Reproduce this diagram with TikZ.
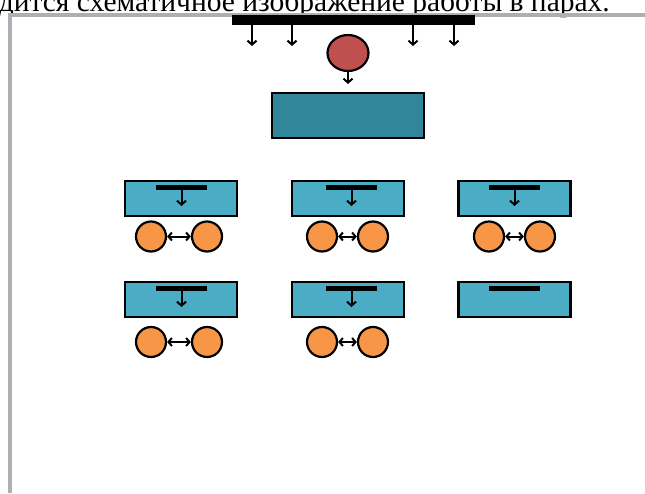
\documentclass[tikz,border=0pt]{standalone}
\usepackage{fontspec}
\setmainfont{Liberation Serif}
\usetikzlibrary{shapes.geometric,arrows.meta}
\definecolor{frameg}{RGB}{172,176,180}
\definecolor{tealdark}{RGB}{49,134,156}
\definecolor{teallight}{RGB}{75,172,198}
\definecolor{redc}{RGB}{192,80,77}
\definecolor{orangec}{RGB}{247,150,70}
\tikzset{
  ar/.style={-{Straight Barb[length=4pt,width=9pt,line width=2pt]},line width=2pt},
  dar/.style={{Straight Barb[length=3.5pt,width=8pt,line width=2pt]}-{Straight Barb[length=3.5pt,width=8pt,line width=2pt]},line width=2pt},
  bigbox/.style={rectangle,draw=black,line width=2.5pt,fill=tealdark,minimum width=152pt,minimum height=45pt,inner sep=0pt},
  smallbox/.style={rectangle,draw=black,line width=2.4pt,fill=teallight,minimum width=112pt,minimum height=35pt,inner sep=0pt},
  innerbar/.style={rectangle,fill=black,minimum width=51pt,minimum height=5pt,inner sep=0pt},
  topbar/.style={rectangle,fill=black,minimum width=243pt,minimum height=10pt,inner sep=0pt},
  pair/.style={circle,draw=black,line width=2.2pt,fill=orangec,minimum size=30pt,inner sep=0pt},
  redcirc/.style={ellipse,draw=black,line width=2.2pt,fill=redc,minimum width=41pt,minimum height=36pt,inner sep=0pt},
}
\begin{document}
\begin{tikzpicture}[x=1pt,y=-1pt]
\useasboundingbox (0,0) rectangle (645,493);
\clip (0,0) rectangle (645,493);
% caption text (cut at the top)
\node[anchor=base east,inner sep=0pt,font=\fontsize{29.5}{34}\selectfont] (cap) at (610,11) {дится схематичное изображение работы в парах.};
% slide frame
\draw[frameg,line width=4pt] (10,493) -- (10,15) -- (650,15);
% top bar with arrows
\node[topbar] (tb) at (353.5,20) {};
\foreach \i/\xx in {1/252,2/292,3/413,4/454}{
  \coordinate (ts\i) at (\xx,25);
  \coordinate (te\i) at (\xx,46);
  \draw[ar] (ts\i) -- (te\i);
}
% red circle
\node[redcirc] (rc) at (348,53) {};
\coordinate (rce) at (348,84);
\draw[ar] (rc.south) -- (rce);
% main box
\node[bigbox] (mb) at (348,115.5) {};
% small boxes
\foreach \c/\cx/\bx in {1/181/181.5,2/348/351.5,3/514.5/514.5}{
  \foreach \r/\ry in {1/198.5,2/299.5}{
    \node[smallbox] (sb\c\r) at (\cx,\ry) {};
    \node[innerbar] (ib\c\r) at (\bx,\ry-11.5) {};
  }
}
\foreach \c/\bx in {1/181.5,2/351.5,3/514.5}{
  \coordinate (ie\c1) at (\bx,206);
  \draw[ar] (ib\c1.south) -- (ie\c1);
}
\foreach \c/\bx in {1/181.5,2/351.5}{
  \coordinate (ie\c2) at (\bx,307);
  \draw[ar] (ib\c2.south) -- (ie\c2);
}
% orange pairs
\foreach \c/\lx/\rx/\cy in {1/151/207/236.5,2/322/373/236.5,3/489/540/236.5}{
  \node[pair] (pl\c1) at (\lx,\cy) {};
  \node[pair] (pr\c1) at (\rx,\cy) {};
  \draw[dar] (pl\c1.east) -- (pr\c1.west);
}
\foreach \c/\lx/\rx/\cy in {1/151/207/342,2/322/373/342}{
  \node[pair] (pl\c2) at (\lx,\cy) {};
  \node[pair] (pr\c2) at (\rx,\cy) {};
  \draw[dar] (pl\c2.east) -- (pr\c2.west);
}
\end{tikzpicture}
\end{document}
